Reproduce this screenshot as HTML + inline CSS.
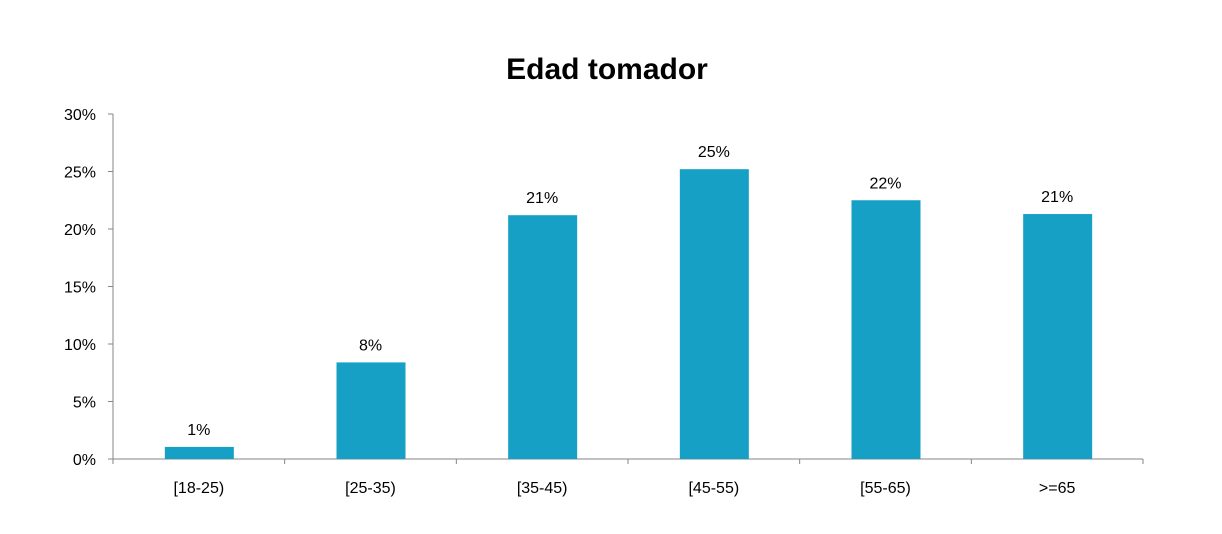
<!DOCTYPE html>
<html><head><meta charset="utf-8"><style>
body{margin:0;background:#fff;}
svg{display:block;font-family:"Liberation Sans",sans-serif;}
</style></head><body>
<svg id="chart" width="1222" height="534">
<text x="607" y="79" text-anchor="middle" font-size="30" font-weight="bold" fill="#000">Edad tomador</text>
<g id="axes"></g><g id="bars"></g>
</svg>
<script>
const categories=["[18-25)","[25-35)","[35-45)","[45-55)","[55-65)",">=65"];
const values=[1.05,8.4,21.2,25.2,22.5,21.3];
const labels=["1%","8%","21%","25%","22%","21%"];
const yTicks=[0,5,10,15,20,25,30];
const NS="http://www.w3.org/2000/svg";
const x0=113,x1=1143,y0=459,yTop=114,yMax=30;
const y=v=>y0-(v/yMax)*(y0-yTop);
const bw=(x1-x0)/categories.length;
const ax=document.getElementById('axes'),bg=document.getElementById('bars');
function mk(tag,a,p){const e=document.createElementNS(NS,tag);for(const k in a)e.setAttribute(k,a[k]);p.appendChild(e);return e;}
let l=mk('line',{x1:x0,y1:yTop,x2:x0,y2:y0,stroke:'#868686'},ax);


l=mk('line',{x1:x0,y1:y0,x2:x1,y2:y0,stroke:'#868686'},ax);


yTicks.forEach(t=>{
 const yy=y(t);
 mk('line',{x1:x0-5,y1:yy,x2:x0,y2:yy,stroke:'#868686'},ax);
 const tx=mk('text',{x:x0-17,y:yy+6,'text-anchor':'end','font-size':16,fill:'#000'},ax);
 tx.textContent=t+'%';
 
 
});
for(let i=0;i<=categories.length;i++){const xx=x0+i*bw;mk('line',{x1:xx,y1:y0,x2:xx,y2:y0+5,stroke:'#868686'},ax);}
categories.forEach((c,i)=>{
 const cx=x0+(i+0.5)*bw;
 const r=mk('rect',{x:cx-34,y:y(values[i]),width:69,height:y0-y(values[i]),fill:'#17a0c6'},bg);
 
 
 const t=mk('text',{x:cx,y:y(values[i])-12,'text-anchor':'middle','font-size':16,fill:'#000'},bg);
 t.textContent=labels[i];
 
 
 const c2=mk('text',{x:cx,y:y0+34,'text-anchor':'middle','font-size':16,fill:'#000'},bg);
 c2.textContent=c;
 
 
});
</script>
</body></html>
